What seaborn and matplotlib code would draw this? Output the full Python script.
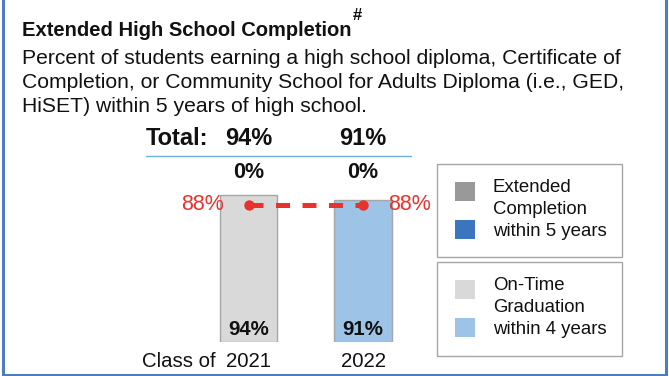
import matplotlib
matplotlib.use("Agg")
import matplotlib.pyplot as plt
import seaborn as sns
import pandas as pd
from matplotlib.patches import Rectangle
from matplotlib.lines import Line2D

# Data
classes = ["2021", "2022"]
on_time = [94, 91]          # on-time graduation within 4 years (%)
extended = [0, 0]           # additional extended completion within 5 years (%)
totals = [94, 91]
state_rate = [88, 88]       # comparison rate shown as dashed red line

ontime_colors = ["#D9D9D9", "#9DC3E6"]
ext_colors = ["#999999", "#3A75BD"]
red = "#E8332C"
frame_blue = "#4A7EC0"
ink = "#111111"

sns.set_theme(style="white")
plt.rcParams["font.family"] = ["Liberation Sans", "DejaVu Sans"]

W, H = 669, 376
fig = plt.figure(figsize=(W / 100, H / 100), dpi=100)
renderer = fig.canvas.get_renderer()


def fx(x):
    return x / W


def fy(y):
    return 1 - y / H


# Bar axes: 0% at y=342 px, 100% at y=186 px; one category step = 114.5 px
ax_left, ax_right = 134, 477.5
ax_bottom, ax_top = 342, 186
ax = fig.add_axes([fx(ax_left), fy(ax_bottom), fx(ax_right - ax_left), (ax_bottom - ax_top) / H])

df = pd.DataFrame({"cls": classes, "on_time": on_time, "extended": extended,
                   "total": totals, "state": state_rate})

sns.barplot(data=df, x="cls", y="on_time", hue="cls", palette=ontime_colors,
            width=0.5, saturation=1, edgecolor="#A6A6A6", linewidth=1,
            legend=False, ax=ax)
# extended-completion portion stacked on top of on-time graduation
ax.bar(range(len(classes)), df["extended"], bottom=df["on_time"], width=0.5,
       color=ext_colors, edgecolor="#A6A6A6", linewidth=1 if max(extended) > 0 else 0)

sns.lineplot(data=df, x="cls", y="state", color=red, lw=3.6, ax=ax,
             marker="o", markersize=7.5, markeredgewidth=0,
             linestyle=(0, (2.8, 2.5)))

ax.set_xlim(-1, 2)
ax.set_ylim(0, 100)
ax.axis("off")

# value labels
for i in range(len(classes)):
    ax.text(i, 2.0, f"{on_time[i]}%", ha="center", va="bottom", fontsize=14.7,
            fontweight="bold", color=ink)
    ax.text(i, 108.5, f"{extended[i]}%", ha="center", va="center", fontsize=15.5,
            fontweight="bold", color=ink, clip_on=False)
    ax.text(i, 130.5, f"{totals[i]}%", ha="center", va="center", fontsize=17,
            fontweight="bold", color=ink, clip_on=False)
    ax.text(i, -12.5, classes[i], ha="center", va="center", fontsize=14.7,
            color=ink, clip_on=False)

ax.text(-0.29, -12.5, "Class of", ha="right", va="center", fontsize=14.7,
        color=ink, clip_on=False)
ax.text(-0.355, 130.5, "Total:", ha="right", va="center", fontsize=17,
        fontweight="bold", color=ink, clip_on=False)

ax.text(-0.215, state_rate[0], f"{state_rate[0]}%", ha="right", va="center",
        fontsize=15.5, color=red, clip_on=False)
ax.text(1.22, state_rate[1], f"{state_rate[1]}%", ha="left", va="center",
        fontsize=15.5, color=red, clip_on=False)

# rule under the totals
fig.add_artist(Line2D([fx(146), fx(411)], [fy(155.5), fy(155.5)], color="#6FB0D8", lw=1))

# title with superscript mark
title = fig.text(fx(22), fy(31), "Extended High School Completion", fontsize=14.5,
                 fontweight="bold", color=ink, va="center", ha="left")
x_end = title.get_window_extent(renderer).x1
fig.text(x_end / W + fx(1.5), fy(15), "#", fontsize=12, fontweight="bold", color=ink,
         va="center", ha="left")

desc = ["Percent of students earning a high school diploma, Certificate of",
        "Completion, or Community School for Adults Diploma (i.e., GED,",
        "HiSET) within 5 years of high school."]
for k, line in enumerate(desc):
    fig.text(fx(22), fy(58 + 24 * k), line, fontsize=15.2, color=ink,
             va="center", ha="left")

# legend boxes
boxes = [(164, 257, ext_colors, ["Extended", "Completion", "within 5 years"]),
         (262, 356, ontime_colors, ["On-Time", "Graduation", "within 4 years"])]
for top, bot, cols, lines in boxes:
    fig.add_artist(Rectangle((fx(437), fy(bot)), fx(622 - 437), (bot - top) / H,
                             transform=fig.transFigure, fill=False,
                             edgecolor="#A6A6A6", lw=1))
    for j, c in enumerate(cols):
        sy = top + 18 + 37.5 * j
        fig.add_artist(Rectangle((fx(455), fy(sy + 19)), fx(20), 19 / H,
                                 transform=fig.transFigure, color=c, lw=0))
    for j, line in enumerate(lines):
        fig.text(fx(493), fy(top + 23 + 22 * j), line, fontsize=13.4,
                 color=ink, va="center", ha="left")

# frame
for xs, ys in [([3, 3], [0, 375]), ([665.5, 665.5], [0, 375]), ([3, 665.5], [374.5, 374.5])]:
    fig.add_artist(Line2D([fx(x) for x in xs], [fy(y) for y in ys], color=frame_blue, lw=2.2))

fig.savefig("out.png", dpi=100)
